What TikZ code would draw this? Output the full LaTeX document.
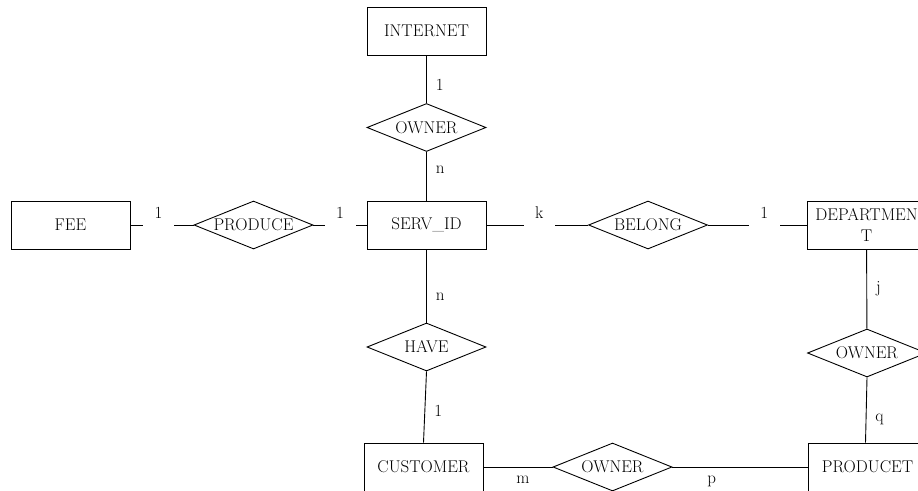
\documentclass[tikz,border=0pt]{standalone}
\usepackage{fontspec}
\usetikzlibrary{shapes.geometric}
\newcommand{\entfont}{\fontsize{17}{21}\selectfont\addfontfeature{LetterSpace=12}}
\newcommand{\labfont}{\fontsize{17}{18}\selectfont}
\begin{document}
\begin{tikzpicture}[x=1pt,y=-1pt,line width=0.9pt,
  ent/.style={draw, rectangle, minimum width=119pt, minimum height=48pt, inner sep=0pt, font=\entfont, align=center},
  rel/.style={draw, diamond, shape aspect=2.5, minimum width=119pt, minimum height=48pt, inner sep=0pt, font=\entfont},
  hlab/.style={fill=white, inner sep=0pt, minimum width=31pt, minimum height=4pt,
    label={[font=\labfont, label distance=0pt]above:#1}},
  vlab/.style={anchor=west, inner sep=0pt, xshift=9pt, font=\labfont},
  blab/.style={anchor=north, inner sep=0pt, yshift=-9pt, font=\labfont}]
\useasboundingbox (0,0) rectangle (918,490);
\clip (0,0) rectangle (918,490);
\node[ent] (internet) at (426.5,31) {INTERNET};
\node[rel] (owner1) at (426.5,127.5) {OWNER};
\node[ent] (serv) at (426.5,225) {SERV\_ID};
\node[ent] (fee) at (70.5,225) {FEE};
\node[rel] (produce) at (253.5,225) {PRODUCE};
\node[rel] (belong) at (648,225) {BELONG};
\node[ent] (dept) at (866.5,225) {DEPARTMEN\\T};
\node[rel] (have) at (426.5,347) {HAVE};
\node[ent] (customer) at (423.5,467) {CUSTOMER};
\node[rel] (owner3) at (612.5,467) {OWNER};
\node[rel] (owner2) at (867,353) {OWNER};
\node[ent] (producet) at (867.5,467) {PRODUCET};
\draw (internet) -- node[vlab,pos=.62]{1} (owner1);
\draw (owner1) -- node[vlab,pos=.37]{n} (serv);
\draw (fee) -- node[hlab=1,pos=.445]{} (produce);
\draw (produce) -- node[hlab=1,pos=.5]{} (serv);
\draw (serv) -- node[hlab=k,pos=.52]{} (belong);
\draw (belong) -- node[hlab=1,pos=.57]{} (dept);
\draw (serv) -- node[vlab,pos=.65]{n} (have);
\draw (have.south) -- node[vlab,pos=.55]{1} (customer.north);
\draw (dept) -- node[vlab,pos=.5]{j} (owner2);
\draw (owner2.south) -- node[vlab,pos=.65]{q} ([xshift=-2pt]producet.north);
\draw (customer) -- node[blab,pos=.57]{m} (owner3);
\draw (owner3) -- node[blab,pos=.29]{p} (producet);
\end{tikzpicture}
\end{document}
